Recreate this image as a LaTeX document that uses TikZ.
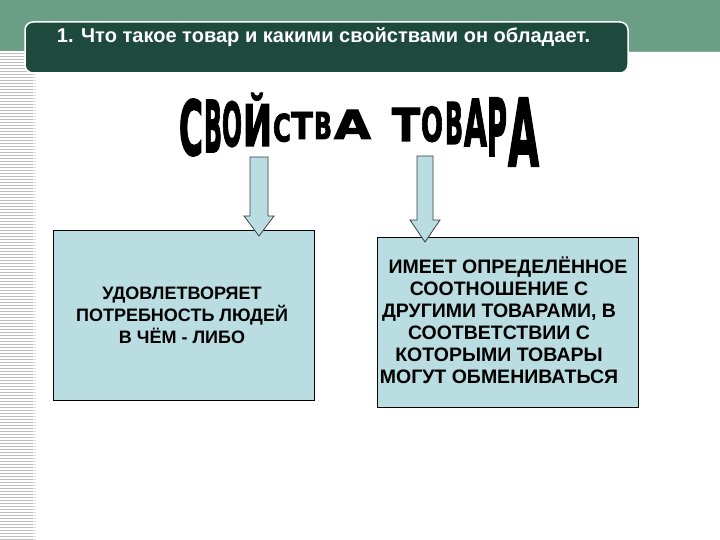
\documentclass[tikz,border=0pt]{standalone}
\usepackage{fontspec}
\setmainfont{Liberation Sans}
\newfontfamily\titlefont[UprightFont=* Bold, FakeBold=2.5]{DejaVu Sans}
\usepackage{graphicx}
\definecolor{bandgreen}{HTML}{6A9E87}
\definecolor{darkbox}{HTML}{1E4A3E}
\definecolor{boxblue}{HTML}{B9DDE1}
\definecolor{stripegray}{HTML}{BDBDBD}
\tikzset{
  tletter/.style={inner sep=0pt, outer sep=0pt, anchor=south west},
  infobox/.style={draw=black, line width=0.9pt, fill=boxblue},
  infotext/.style={font=\bfseries\fontsize{18}{22}\selectfont, align=center, text=black, inner sep=0pt},
  blockarrow/.style={draw=black!75, line width=0.8pt, fill=boxblue},
}
% name, x, ybottom, width, height, letter
\newcommand\tlet[6]{\node[tletter] (#1) at (#2,#3) {\resizebox{#4pt}{#5pt}{\titlefont #6}};}
\begin{document}
\begin{tikzpicture}[x=1pt,y=-1pt]
\useasboundingbox (0,0) rectangle (720,540);
\fill[white] (0,0) rectangle (720,540);
% top band
\fill[bandgreen] (0,0) rectangle (720,51);
\draw[bandgreen!80!white, line width=1pt] (628,51.5) -- (720,51.5);
% left stripes
\foreach \yy in {53,56,...,539} {
  \draw[stripegray, line width=0.9pt] (0,\yy) -- (33,\yy);
  \draw[stripegray!45, line width=0.9pt] (33,\yy) -- (36,\yy);
}
% header box
\node[draw=white, line width=1.5pt, fill=darkbox, rounded corners=8pt, minimum width=603pt, minimum height=51pt, inner sep=0pt] (header) at (326.5,47.5) {};
\node[text=white, inner sep=0pt, font=\bfseries\fontsize{19}{22}\selectfont] (headtext) at (323.5,37.5) {\resizebox{533pt}{!}{1. Что такое товар и какими свойствами он обладает.}};
% title letters
\tlet{t1}{179}{156}{24}{56}{С}
\tlet{t2}{204}{152}{18}{52}{В}
\tlet{t3}{222}{147}{20}{45}{О}
\tlet{t4}{243}{146}{29}{53}{Й}
\tlet{t5}{273}{142}{18}{28}{С}
\tlet{t6}{291}{139}{22}{27}{Т}
\tlet{t7}{314}{139}{18}{27}{В}
\tlet{t8}{334}{139}{37}{29}{А}
\tlet{t9}{392}{141}{28}{33}{Т}
\tlet{t10}{421}{142}{22}{35}{О}
\tlet{t11}{445}{144}{18}{42}{В}
\tlet{t12}{464}{146}{23}{47}{А}
\tlet{t13}{487}{156}{20}{58}{Р}
\tlet{t14}{508}{166}{31}{68}{А}
% boxes
\node[infobox, minimum width=261pt, minimum height=170pt, inner sep=0pt] (left) at (183.5,315) {};
\node[infotext] (lefttext) at (182,315) {УДОВЛЕТВОРЯЕТ\\ПОТРЕБНОСТЬ ЛЮДЕЙ\\В ЧЁМ - ЛИБО};
\node[infobox, minimum width=261pt, minimum height=170pt, inner sep=0pt] (right) at (507.5,322) {};
\node[infotext, font=\bfseries\fontsize{19.5}{22}\selectfont] (righttext) at (499,320) {\hspace*{18pt}ИМЕЕТ ОПРЕДЕЛЁННОЕ\\СООТНОШЕНИЕ С\\ДРУГИМИ ТОВАРАМИ, В\\СООТВЕТСТВИИ С\\КОТОРЫМИ ТОВАРЫ\\МОГУТ ОБМЕНИВАТЬСЯ};
% block arrows
\coordinate (la) at (259,157);
\coordinate (ra) at (425,156);
\draw[blockarrow] ([xshift=-9pt]la) -- ([xshift=9pt]la) -- ([xshift=9pt,yshift=-59pt]la) -- ([xshift=15pt,yshift=-59pt]la) -- ([yshift=-79pt]la) -- ([xshift=-15pt,yshift=-59pt]la) -- ([xshift=-9pt,yshift=-59pt]la) -- cycle;
\draw[blockarrow] ([xshift=-8pt]ra) -- ([xshift=8pt]ra) -- ([xshift=8pt,yshift=-64pt]ra) -- ([xshift=15pt,yshift=-64pt]ra) -- ([yshift=-86pt]ra) -- ([xshift=-15pt,yshift=-64pt]ra) -- ([xshift=-8pt,yshift=-64pt]ra) -- cycle;
\end{tikzpicture}
\end{document}
